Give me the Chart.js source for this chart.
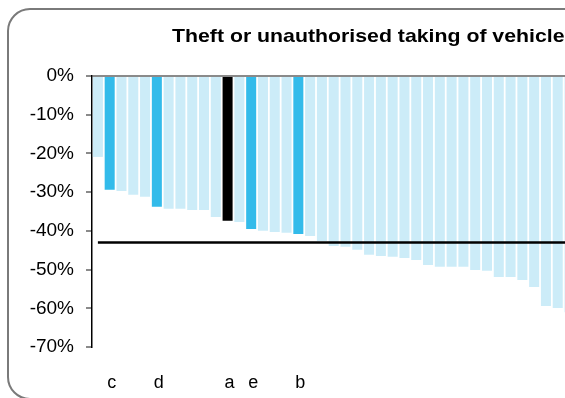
<!DOCTYPE html>
<html>
<head>
<meta charset="utf-8">
<script src="https://cdn.jsdelivr.net/npm/chart.js@4"></script>
<style>
    html, body { margin: 0; padding: 0; background: #ffffff; overflow: hidden; }
    #wrap { width: 620px; height: 398px; }
</style>
</head>
<body>
<div id="wrap"><canvas id="theftChart" width="620" height="398"></canvas></div>
<script>
// Chart data (43 forces, sorted by change)
const chartTitle = 'Theft or unauthorised taking of vehicles';
const forceLabels = ['', 'c', '', '', '', 'd', '', '', '', '', '', 'a', '', 'e', '', '', '', 'b', '', '', '', '', '',
    '', '', '', '', '', '', '', '', '', '', '', '', '', '', '', '', '', '', '', ''];
const changeValues = [-20.9, -29.4, -29.7, -30.7, -31.2, -33.8, -34.3, -34.3, -34.6, -34.6, -36.4, -37.4, -37.7,
    -39.5, -40.0, -40.3, -40.5, -40.8, -41.3, -42.6, -43.9, -44.1, -44.9, -46.2, -46.5, -46.7, -47.0, -47.5,
    -48.8, -49.3, -49.3, -49.3, -50.1, -50.3, -51.9, -51.9, -52.7, -54.5, -59.4, -59.9, -61.0, -62.0, -63.5];
const highlightLabels = ['c', 'd', 'e', 'b'];
const selectedLabel = 'a';
const averageValue = -43.0;
const yTicks = [0, -10, -20, -30, -40, -50, -60, -70];

const barColors = forceLabels.map(l => {
    if (l === selectedLabel) return '#000000';
    if (highlightLabels.includes(l)) return '#33bbea';
    return '#ccecf8';
});

// Rounded frame and title
const framePlugin = {
    id: 'frame',
    beforeDraw(chart) {
        const ctx = chart.ctx;
        ctx.save();
        ctx.strokeStyle = '#7a7a7a';
        ctx.lineWidth = 2;
        ctx.beginPath();
        ctx.roundRect(8, 9, 600, 390, 22);
        ctx.stroke();
        ctx.restore();
    },
    afterDraw(chart) {
        const ctx = chart.ctx;
        ctx.save();
        ctx.fillStyle = '#000000';
        ctx.font = 'bold 19px "Liberation Sans", Arial, sans-serif';
        ctx.textAlign = 'left';
        ctx.textBaseline = 'alphabetic';
        ctx.translate(172, 41.5);
        ctx.scale(1.12, 1);
        ctx.fillText(chartTitle, 0, 0);
        ctx.restore();
    }
};

const ctx = document.getElementById('theftChart').getContext('2d');
const theftChart = new Chart(ctx, {
    type: 'bar',
    data: {
        labels: forceLabels,
        datasets: [{
            type: 'line',
            data: forceLabels.map(() => averageValue),
            borderColor: '#000000',
            borderWidth: 2.5,
            pointRadius: 0,
            fill: false,
            order: 0
        }, {
            data: changeValues,
            backgroundColor: barColors,
            borderWidth: 0,
            barPercentage: 0.85,
            categoryPercentage: 1.0,
            order: 1
        }]
    },
    plugins: [framePlugin],
    options: {
        responsive: false,
        animation: false,
        layout: {
            padding: { top: 76, right: 21, bottom: 0, left: 0 }
        },
        plugins: {
            legend: { display: false },
            tooltip: { enabled: false }
        },
        scales: {
            x: {
                grid: { display: false },
                border: { display: false },
                ticks: {
                    color: '#000000',
                    autoSkip: false,
                    maxRotation: 0,
                    padding: 17,
                    labelOffset: 2,
                    font: { family: '"Liberation Sans", Arial, sans-serif', size: 18 }
                },
                afterFit(scale) { scale.height = 51; }
            },
            y: {
                min: -70,
                max: 0,
                afterBuildTicks(scale) { scale.ticks = yTicks.map(v => ({ value: v })); },
                grid: {
                    color: c => (c.tick && c.tick.value === 0) ? '#8a8a8a' : 'rgba(0,0,0,0)',
                    tickColor: '#8a8a8a',
                    tickLength: 6,
                    lineWidth: 2
                },
                border: { display: true, color: '#000000', width: 1.5 },
                ticks: {
                    color: '#000000',
                    padding: 12,
                    font: { family: '"Liberation Sans", Arial, sans-serif', size: 19 },
                    callback: v => v + '%'
                },
                afterFit(scale) { scale.width = 92; }
            }
        }
    }
});
</script>
</body>
</html>
